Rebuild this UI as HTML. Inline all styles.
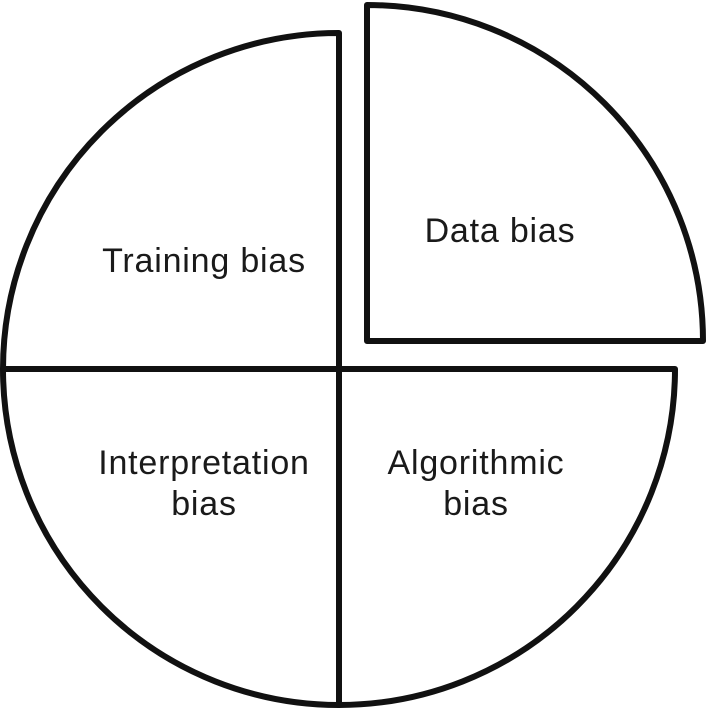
<!DOCTYPE html>
<html><head><style>
body{margin:0;background:#fff}
svg text{font-family:"Liberation Sans",sans-serif;font-size:34px;letter-spacing:0.8px;fill:#1a1a1a;text-anchor:middle}
</style></head><body>
<svg width="709" height="709" viewBox="0 0 709 709" xmlns="http://www.w3.org/2000/svg">
<g fill="none" stroke="#111" stroke-width="6" stroke-linejoin="round">
<path d="M339 369 L339 33 A336 336 0 0 0 3 369 Z"/>
<path d="M339 369 L3 369 A336 336 0 0 0 339 705 Z"/>
<path d="M339 369 L339 705 A336 336 0 0 0 675 369 Z"/>
<path d="M367 341 L367 5 A336 336 0 0 1 703 341 Z"/>
</g>
<text x="204" y="272">Training bias</text>
<text x="500" y="242">Data bias</text>
<text x="204" y="474">Interpretation</text>
<text x="204" y="515">bias</text>
<text x="476" y="474">Algorithmic</text>
<text x="476" y="515">bias</text>
</svg>
</body></html>
